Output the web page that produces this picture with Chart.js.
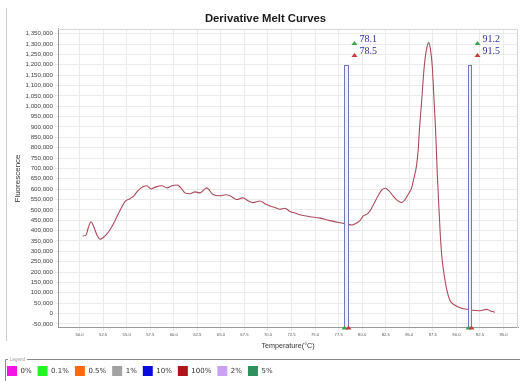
<!DOCTYPE html>
<html>
<head>
<meta charset="utf-8">
<script src="https://cdn.jsdelivr.net/npm/chart.js@4.4.1/dist/chart.umd.min.js"></script>
<style>
  html, body { margin: 0; padding: 0; background: #fff; }
  #wrap { width: 520px; height: 381px; position: relative; }
</style>
</head>
<body>
<div id="wrap"><canvas id="meltChart"></canvas></div>
<script>
    "use strict";

    // melt curve
    const temps = [50.33, 50.68, 50.94, 51.21, 51.53, 51.85, 52.17, 52.54, 52.91, 53.33,
        53.76, 54.29, 54.82, 55.35, 55.77, 56.20, 56.73, 57.15, 57.58, 58.11,
        58.75, 59.28, 59.81, 60.34, 60.76, 61.19, 61.72, 62.25, 62.78, 63.49,
        64.16, 64.90, 65.54, 65.97, 66.68, 67.35, 67.88, 68.41, 69.15, 69.68,
        70.21, 70.74, 71.27, 71.80, 72.33, 72.87, 73.40, 74.46, 75.52, 76.58,
        77.64, 78.39, 78.92, 79.34, 79.77, 80.12, 80.48, 80.83, 81.25, 81.68,
        82.10, 82.47, 82.84, 83.27, 83.69, 84.19, 84.54, 84.86, 85.25, 85.50,
        85.78, 85.96, 86.06, 86.29, 86.59, 86.82, 87.06, 87.25, 87.44, 87.62,
        87.80, 87.99, 88.26, 88.44, 88.61, 88.97, 89.32, 89.85, 90.38, 91.44,
        92.51, 93.22, 93.57, 94.10];
    const fluor = [374000, 378000, 416000, 443000, 416000, 378000, 358000, 368000, 384000, 411000,
        448000, 497000, 540000, 554000, 568000, 593000, 611000, 616000, 601000, 611000,
        616000, 606000, 616000, 620000, 606000, 582000, 578000, 587000, 582000, 606000,
        574000, 568000, 573000, 568000, 550000, 558000, 544000, 535000, 543000, 530000,
        519000, 511000, 503000, 508000, 492000, 485000, 476000, 467000, 460000, 448000,
        438000, 432000, 427000, 435000, 448000, 471000, 478000, 495000, 530000, 568000,
        597000, 604000, 592000, 568000, 547000, 535000, 549000, 573000, 606000, 654000,
        717000, 797000, 876000, 1011000, 1193000, 1273000, 1307000, 1273000, 1193000, 1035000,
        876000, 654000, 406000, 282000, 216000, 116000, 63000, 40000, 28000, 18000,
        13000, 20000, 13000, 6000];

    const legendLabels = ['0%', '0.1%', '0.5%', '1%', '10%', '100%', '2%', '5%'];
    const legendColors = ['#f414e8', '#22f522', '#fb6a12', '#a2a2a2', '#0a0ae0', '#b2141c', '#caa2f2', '#2f8f5d'];
    const curveLabel = '100%';

    const xTickValues = [50, 52.5, 55, 57.5, 60, 62.5, 65, 67.5, 70, 72.5, 75, 77.5, 80, 82.5, 85, 87.5, 90, 92.5, 95];
    const yTickValues = [-50000, 0, 50000, 100000, 150000, 200000, 250000, 300000, 350000, 400000,
        450000, 500000, 550000, 600000, 650000, 700000, 750000, 800000, 850000, 900000, 950000,
        1000000, 1050000, 1100000, 1150000, 1200000, 1250000, 1300000, 1350000];

    // Tm marker bars
    const markerStart = [78.1, 91.2];
    const markerEnd = [78.5, 91.5];
    const markerTop = 1200000;

    const markers = {
        id: 'markers',
        afterLayout(chart) {
            // nudge legend down a little and the title a bit right, like the original panel
            chart.legend.top += 5;
            chart.legend.bottom += 5;
            chart.titleBlock.left += 6;
            chart.titleBlock.right += 6;
        },
        beforeDraw(chart) {
            const c = chart.ctx;
            c.save();
            // panel edge on the left
            c.strokeStyle = '#cfcfcf';
            c.lineWidth = 1;
            c.beginPath();
            c.moveTo(6.5, 8); c.lineTo(6.5, 341);
            c.stroke();
            // legend frame
            c.strokeStyle = '#8a8a8a';
            c.beginPath();
            c.moveTo(5.5, 381); c.lineTo(5.5, 359.5); c.lineTo(8, 359.5);
            c.moveTo(27, 359.5); c.lineTo(520, 359.5);
            c.stroke();
            c.fillStyle = '#9a9a9a';
            c.font = '4.5px "Liberation Sans"';
            c.textBaseline = 'middle';
            c.fillText('Legend', 10, 359.5);
            c.restore();
        },
        afterDatasetsDraw(chart) {
            const c = chart.ctx;
            const area = chart.chartArea;
            const xs = chart.scales.x, ys = chart.scales.y;
            c.save();
            // frame round the plot
            c.strokeStyle = '#d6d6d6';
            c.lineWidth = 1;
            c.beginPath();
            c.moveTo(area.left, area.top + 0.5); c.lineTo(area.right - 0.5, area.top + 0.5);
            c.lineTo(area.right - 0.5, area.bottom);
            c.stroke();

            const triangle = (cx, baseY, color) => {
                c.fillStyle = color;
                c.beginPath();
                c.moveTo(cx - 3, baseY);
                c.lineTo(cx + 3, baseY);
                c.lineTo(cx, baseY - 4);
                c.closePath();
                c.fill();
            };

            markerStart.forEach((t, i) => {
                const x0 = Math.round(xs.getPixelForValue(t)) + 0.5;
                const x1 = Math.round(xs.getPixelForValue(markerEnd[i])) + 0.5;
                const top = Math.round(ys.getPixelForValue(markerTop)) + 0.5;
                c.fillStyle = '#eef0fa';
                c.fillRect(x0, top, x1 - x0, area.bottom - top);
                c.strokeStyle = '#7179bb';
                c.lineWidth = 1;
                c.strokeRect(x0, top, x1 - x0, area.bottom - top);

                // labels above the bar
                triangle(x1 + 6, 45, '#3fa34d');
                triangle(x1 + 6, 57, '#c43a3a');
                c.fillStyle = '#2e2e9c';
                c.font = '10px "Liberation Serif"';
                c.textBaseline = 'middle';
                c.textAlign = 'left';
                c.fillText(t.toFixed(1), x1 + 11, 39);
                c.fillText(markerEnd[i].toFixed(1), x1 + 11, 51);

                // small flags on the axis
                triangle(x0, area.bottom + 1.5, '#3fa34d');
                triangle(x1, area.bottom + 1.5, '#c43a3a');
            });
            c.restore();
        }
    };

    function buildDatasets() {
        return legendLabels.map((label, i) => {
            const isCurve = label === curveLabel;
            return {
                label: label,
                data: isCurve ? temps.map((t, k) => ({x: t, y: fluor[k]})) : [],
                backgroundColor: legendColors[i],
                borderColor: isCurve ? '#ac4a5a' : legendColors[i],
                borderWidth: isCurve ? 1.1 : 0,
                pointRadius: 0,
                cubicInterpolationMode: 'monotone',
                fill: false
            };
        });
    }

    function initChart() {
        const ctx = document.getElementById('meltChart').getContext('2d');
        const tickFont = {family: '"Liberation Sans"', size: 6.2};

        new Chart(ctx, {
            type: 'line',
            data: { datasets: buildDatasets() },
            plugins: [markers],
            options: {
                responsive: true,
                maintainAspectRatio: false,
                animation: false,
                layout: { padding: {left: 1, right: 2, top: 0, bottom: 0} },
                plugins: {
                    title: {
                        display: true,
                        text: 'Derivative Melt Curves',
                        color: '#1a1a1a',
                        font: {family: '"Liberation Sans"', size: 11.3, weight: 'bold'},
                        padding: {top: 12, bottom: 3.4}
                    },
                    legend: {
                        position: 'bottom',
                        align: 'start',
                        labels: {
                            boxWidth: 10,
                            boxHeight: 10,
                            padding: 6,
                            color: '#333',
                            font: {family: '"DejaVu Sans"', size: 7},
                            generateLabels(chart) {
                                const items = Chart.defaults.plugins.legend.labels.generateLabels(chart);
                                items.forEach(it => { it.strokeStyle = it.fillStyle; it.lineWidth = 0; });
                                return items;
                            }
                        }
                    },
                    tooltip: { enabled: false }
                },
                scales: {
                    x: {
                        type: 'linear',
                        min: 47.71,
                        max: 96.54,
                        afterBuildTicks(scale) {
                            scale.ticks = xTickValues.map(v => ({value: v}));
                        },
                        afterFit(scale) { scale.height = 27; },
                        ticks: {
                            color: '#555',
                            font: {family: '"Liberation Sans"', size: 4.2},
                            maxRotation: 0,
                            autoSkip: false,
                            padding: 1,
                            callback: v => v.toFixed(1)
                        },
                        grid: { color: '#ebebeb', tickLength: 3 },
                        border: { color: '#9a9a9a' },
                        title: {
                            display: true,
                            text: 'Temperature(°C)',
                            color: '#333',
                            font: {family: '"Liberation Sans"', size: 7.2},
                            padding: {top: 0, bottom: 4.5}
                        }
                    },
                    y: {
                        min: -70000,
                        max: 1372857,
                        afterBuildTicks(scale) {
                            scale.ticks = yTickValues.map(v => ({value: v}));
                        },
                        afterFit(scale) { scale.width = 57; },
                        ticks: {
                            color: '#444',
                            font: tickFont,
                            padding: 2,
                            callback: v => v.toLocaleString('en-US')
                        },
                        grid: { color: '#ebebeb', tickLength: 3 },
                        border: { color: '#9a9a9a' },
                        title: {
                            display: true,
                            text: 'Fluorescence',
                            color: '#333',
                            font: {family: '"Liberation Sans"', size: 8},
                            padding: {top: 12, bottom: 0}
                        }
                    }
                }
            }
        });
    }

    initChart();
</script>
</body>
</html>
